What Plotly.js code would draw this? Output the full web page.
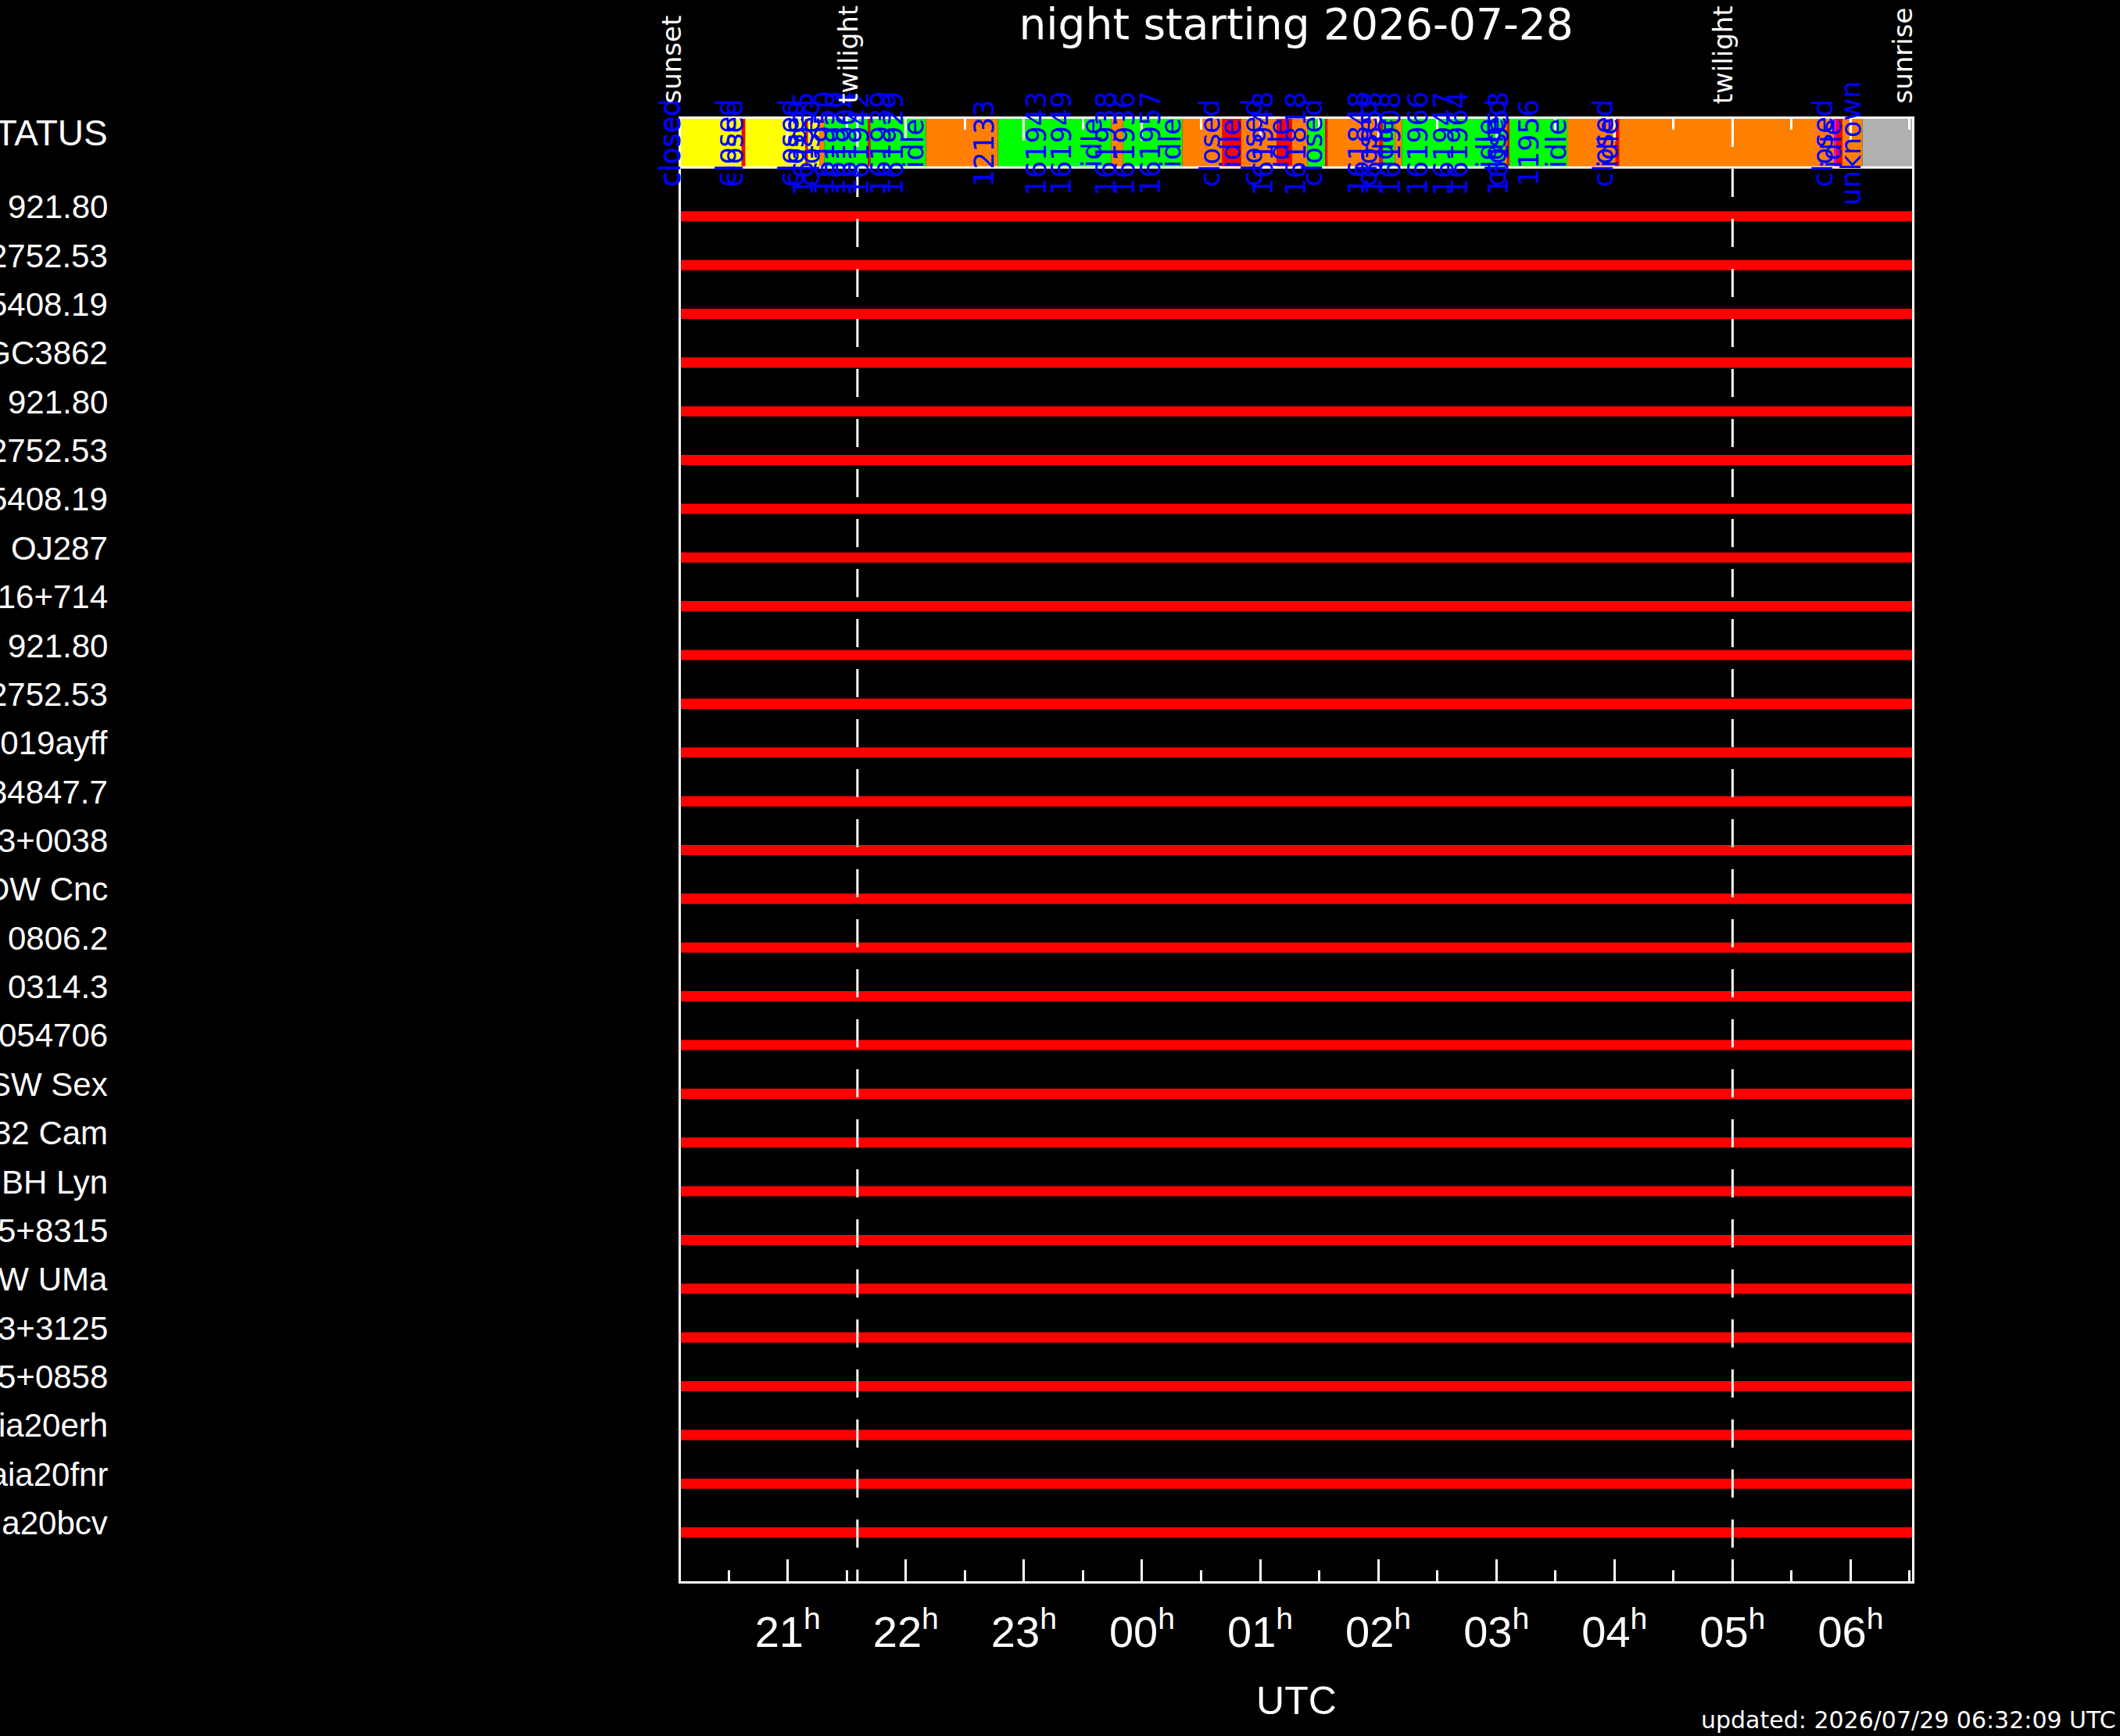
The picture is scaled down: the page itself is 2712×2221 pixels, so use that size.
<!DOCTYPE html>
<html>
<head>
<meta charset="utf-8">
<script src="https://cdn.plot.ly/plotly-3.0.1.min.js"></script>
<style>
  html, body { margin: 0; padding: 0; background: #000; }
  #chart { width: 2712px; height: 2221px; }
</style>
</head>
<body>
<div id="chart"></div>
<script>
// ---------- data (times in hours, UTC; values > 24 are after midnight) ----------
const nightDate = "2026-07-28";
const updatedText = "updated: 2026/07/29 06:32:09 UTC";

const xStart = 20.095;   // sunset, left edge
const xEnd = 30.52;      // sunrise, right edge

const hourTicks = [21, 22, 23, 24, 25, 26, 27, 28, 29, 30];
const hourLabels = ["21", "22", "23", "00", "01", "02", "03", "04", "05", "06"];
const halfHourTicks = [20.5, 21.5, 22.5, 23.5, 24.5, 25.5, 26.5, 27.5, 28.5, 29.5, 30.5];

const eventNames = ["sunset", "twilight", "twilight", "sunrise"];
const eventTimes = [20.095, 21.59, 29.00, 30.52];
const twilightTimes = [21.59, 29.00];

const targets = ["921.80", "2752.53", "5408.19", "NGC3862", "921.80", "2752.53", "5408.19",
  "OJ287", "0716+714", "921.80", "2752.53", "2019ayff", "34847.7", "3+0038", "DW Cnc",
  "0806.2", "0314.3", "054706", "SW Sex", "32 Cam", "BH Lyn", "5+8315", "DW UMa",
  "3+3125", "5+0858", "Gaia20erh", "Gaia20fnr", "Gaia20bcv"];
const targetStart = Array(28).fill(20.095);
const targetEnd = Array(28).fill(30.52);

// status bar segments: start time and status
const statusStart = [20.095, 20.61, 20.64, 21.15, 21.17, 21.27, 21.31, 21.68, 21.70, 22.17,
  22.78, 23.74, 23.84, 24.34, 24.68, 24.84, 25.14, 25.27, 25.40, 25.55, 25.57, 26.01,
  26.04, 26.14, 26.20, 27.07, 27.09, 27.11, 27.60, 28.01, 28.04, 29.86, 29.88, 29.93, 30.10];
const statusKind = ["twi", "closed", "twi", "closed", "twi", "idle", "obs", "closed", "obs", "idle",
  "obs", "idle", "obs", "idle", "closed", "idle", "closed", "idle", "obs", "closed", "idle", "closed",
  "obs", "idle", "obs", "idle", "closed", "obs", "idle", "closed", "idle", "other", "closed", "idle", "unknown"];
const statusColors = { twi: "#FFFF00", closed: "#FF0000", idle: "#FF8000", obs: "#00FF00",
  other: "#FF00FF", unknown: "#B0B0B0" };

// blue labels in the status bar
const labelTimes = [20.095, 20.10, 20.57, 20.63, 21.10, 21.15, 21.23, 21.28, 21.41, 21.50, 21.59,
  21.70, 21.88, 21.99, 22.16, 22.76, 23.20, 23.41, 23.67, 23.79, 23.95, 24.17, 24.34, 24.67,
  24.84, 25.03, 25.12, 25.25, 25.40, 25.54, 25.93, 26.00, 26.04, 26.14, 26.20, 26.43, 26.65,
  26.77, 27.01, 27.07, 27.09, 27.11, 27.37, 27.60, 28.00, 28.04, 29.86, 29.93, 30.10];
const labelTexts = ["closed", "closed", "closed", "closed", "closed", "closed", "161935", "closed",
  "161950", "161920", "161904", "161942", "161939", "161929", "idle", "12133", "161943", "161949",
  "idle", "161938", "161936", "161957", "idle", "closed", "idle", "closed", "161948", "idle",
  "161818", "closed", "161848", "closed", "161858", "idle", "161908", "161966", "161947",
  "161964", "idle", "idle", "closed", "161953", "11956", "idle", "closed", "idle", "closed",
  "idle", "unknown"];

// ---------- build ----------
const statusEnd = statusStart.slice(1).concat([xEnd]);
const rowIdx = targets.map((_, i) => i);

const traces = [];
traces.push({
  type: "bar", orientation: "h",
  y: statusStart.map(() => -1.5),
  base: statusStart,
  x: statusStart.map((s, i) => statusEnd[i] - s),
  width: 1,
  marker: { color: statusKind.map(k => statusColors[k]), line: { width: 0 } },
  hoverinfo: "skip", showlegend: false
});
traces.push({
  type: "bar", orientation: "h",
  y: rowIdx,
  base: targetStart,
  x: targetStart.map((s, i) => targetEnd[i] - s),
  width: 0.21,
  marker: { color: "#FF0000", line: { width: 0 } },
  hoverinfo: "skip", showlegend: false
});
twilightTimes.forEach(t => {
  traces.push({
    type: "scatter", mode: "lines",
    x: [t, t], y: [-2, 28],
    line: { color: "#FFFFFF", width: 3, dash: "36px,28px" },
    hoverinfo: "skip", showlegend: false
  });
});

const annotations = [];
const labFont = { family: "Liberation Sans", size: 42, color: "#FFFFFF" };
annotations.push({ xref: "paper", x: -0.4641, xanchor: "right", yref: "y", y: -1.5, yshift: 13,
  text: "STATUS", showarrow: false, font: { family: "Liberation Sans", size: 46, color: "#FFFFFF" } });
targets.forEach((t, i) => {
  annotations.push({ xref: "paper", x: -0.4641, xanchor: "right", yref: "y", y: i, yshift: 12,
    text: t, showarrow: false, font: labFont });
});
labelTimes.forEach((t, i) => {
  annotations.push({ xref: "x", x: t, xanchor: "right", xshift: 8, yref: "y", y: -1.5,
    yanchor: "middle", textangle: -90, text: labelTexts[i], showarrow: false,
    font: { family: "DejaVu Sans", size: 35, color: "#0000FF" } });
});
eventTimes.forEach((t, i) => {
  annotations.push({ xref: "x", x: t, xanchor: "right", xshift: 10, yref: "paper", y: 1.0091,
    yanchor: "bottom", textangle: -90, text: eventNames[i], showarrow: false,
    font: { family: "DejaVu Sans", size: 34, color: "#FFFFFF" } });
});
annotations.push({ xref: "paper", x: 1.167, xanchor: "right", yref: "paper", y: -0.0951,
  yanchor: "middle", text: updatedText, showarrow: false,
  font: { family: "DejaVu Sans", size: 30, color: "#FFFFFF" } });

const layout = {
  width: 2712, height: 2221,
  paper_bgcolor: "#000000", plot_bgcolor: "#000000",
  margin: { l: 871, r: 266, t: 152, b: 198 },
  barmode: "overlay",
  hovermode: false,
  showlegend: false,
  title: { text: "night starting " + nightDate, xref: "container", x: 0.6114, xanchor: "center",
    yref: "container", y: 0.9862, yanchor: "middle",
    font: { family: "DejaVu Sans", size: 55, color: "#FFFFFF" } },
  xaxis: {
    range: [xStart, xEnd], showgrid: false, zeroline: false,
    showline: true, linecolor: "#FFFFFF", linewidth: 3, mirror: "ticks",
    ticks: "inside", ticklen: 28, tickwidth: 3, tickcolor: "#FFFFFF",
    tickmode: "array", tickvals: hourTicks,
    ticktext: hourLabels.map(h => h + "<sup>h</sup>"),
    ticklabelstandoff: 14,
    tickfont: { family: "Liberation Sans", size: 56, color: "#FFFFFF" },
    minor: { tickmode: "array", tickvals: halfHourTicks, ticks: "inside", ticklen: 14,
      tickwidth: 3, tickcolor: "#FFFFFF", showgrid: false },
    title: { text: "UTC", standoff: 40, font: { family: "Liberation Sans", size: 50, color: "#FFFFFF" } }
  },
  yaxis: {
    range: [28, -2], showgrid: false, zeroline: false, showticklabels: false, ticks: "",
    showline: true, linecolor: "#FFFFFF", linewidth: 3, mirror: true
  },
  shapes: [
    { type: "line", xref: "paper", x0: 0, x1: 1, yref: "y", y0: -1, y1: -1,
      line: { color: "#FFFFFF", width: 3 }, layer: "above" }
  ],
  annotations: annotations
};

Plotly.newPlot("chart", traces, layout, { displayModeBar: false, staticPlot: true });
</script>
</body>
</html>
